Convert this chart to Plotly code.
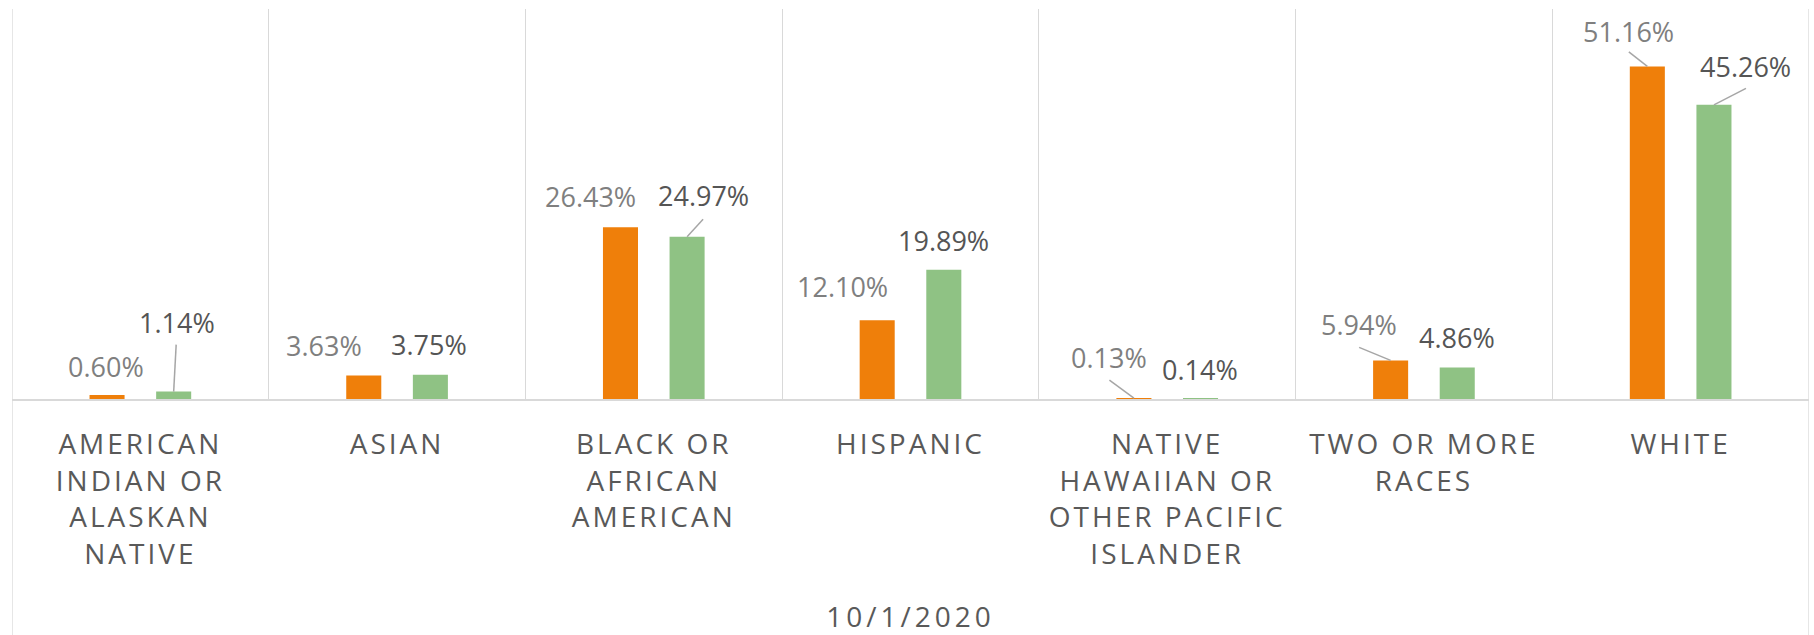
import plotly.graph_objects as go

# ---------------- data ----------------
categories = [
    "AMERICAN<br>INDIAN OR<br>ALASKAN<br>NATIVE",
    "ASIAN",
    "BLACK OR<br>AFRICAN<br>AMERICAN",
    "HISPANIC",
    "NATIVE<br>HAWAIIAN OR<br>OTHER PACIFIC<br>ISLANDER",
    "TWO OR MORE<br>RACES",
    "WHITE",
]
series_a = [0.60, 3.63, 26.43, 12.10, 0.13, 5.94, 51.16]   # orange
series_b = [1.14, 3.75, 24.97, 19.89, 0.14, 4.86, 45.26]   # green
axis_title = "10/1/2020"

# ---------------- styles / label placement (pixels) ----------------
W, H = 1814, 635
ML, MR, MT, MB = 12, 5, 9, 236
COL_A = "#EF7F0A"
COL_B = "#8FC284"
LAB_A = "#7F7F7F"
LAB_B = "#555555"
GRID = "#D9D9D9"
LEADER = "#A6A6A6"
FONT = "Open Sans"
BARGAP = 0.481
GROUPGAP = 0.474

# label centre offsets from bar-top centre (dx right, dy up)
off_a = [(-1, 29), (-40, 30), (-30, 30.5), (-34.5, 33.5), (-24.5, 41), (-32, 35.5), (-18.5, 35)]
off_b = [(3, 69.5), (-1, 30), (16, 41), (0, 29), (-0.5, 29), (-0.5, 29.5), (32, 38.5)]
# leader lines (start offset from bar top centre), None = no leader
lead_a = [None, None, None, None, (-24.5, 18), (-31.5, 13), (-18.5, 14.5)]
lead_b = [(2.5, 47), None, (16, 17.5), None, None, None, (32, 16.5)]

xs = list(range(len(categories)))
half = (1 - BARGAP) / 4.0

fig = go.Figure()
fig.add_trace(go.Bar(x=xs, y=series_a, marker=dict(color=COL_A, line=dict(width=0)),
                     name="A", hoverinfo="skip"))
fig.add_trace(go.Bar(x=xs, y=series_b, marker=dict(color=COL_B, line=dict(width=0)),
                     name="B", hoverinfo="skip"))

annotations = []
shapes = []
for vals, offs, leads, shift, col in [(series_a, off_a, lead_a, -half, LAB_A),
                                      (series_b, off_b, lead_b, half, LAB_B)]:
    for i, v in enumerate(vals):
        dx, dy = offs[i]
        annotations.append(dict(
            x=i + shift, y=v, xref="x", yref="y", text=f"{v:.2f}%",
            showarrow=False, xanchor="center", yanchor="middle",
            xshift=dx, yshift=dy, font=dict(family=FONT, size=27, color=col)))
        if leads[i] is not None:
            lx, ly = leads[i]
            shapes.append(dict(
                type="line", xref="x", yref="y", xsizemode="pixel", ysizemode="pixel",
                xanchor=i + shift, yanchor=v, x0=lx, y0=ly, x1=0, y1=0,
                line=dict(color=LEADER, width=1.5), layer="above"))

plot_h = H - MT - MB
for xb in (-0.5, len(categories) - 0.5):
    shapes.append(dict(type="line", xref="x", yref="paper", x0=xb, x1=xb,
                       y0=-MB / plot_h, y1=1, line=dict(color=GRID, width=1.3), layer="below"))

fig.update_layout(
    width=W, height=H,
    margin=dict(l=ML, r=MR, t=MT, b=MB, pad=0),
    paper_bgcolor="white", plot_bgcolor="white",
    barmode="group", bargap=BARGAP, bargroupgap=GROUPGAP,
    showlegend=False,
    annotations=annotations, shapes=shapes,
    font=dict(family=FONT, color="#595959"),
)
fig.update_xaxes(
    range=[-0.5, len(categories) - 0.5], tickmode="array", tickvals=xs, ticktext=categories,
    tickfont=dict(family=FONT, size=28, color="#595959"), ticks="", ticklabelstandoff=20,
    showgrid=False, zeroline=False, showline=True, linecolor=GRID, linewidth=1.5,
    minor=dict(tickmode="array", tickvals=[k + 0.5 for k in xs[:-1]], showgrid=True,
               gridcolor=GRID, gridwidth=1.3, ticks=""),
    title=dict(text=axis_title, font=dict(family=FONT, size=28, color="#595959"), standoff=39),
    fixedrange=True, automargin=False,
)
fig.update_yaxes(range=[0, 60], visible=False, showgrid=False, zeroline=False,
                 fixedrange=True)

post = """
document.body.style.margin='0';
document.body.style.overflow='hidden';
var gd=document.getElementById('{plot_id}');
function sp(){
  gd.querySelectorAll('.xtick text').forEach(function(t){t.style.letterSpacing='3px';});
  gd.querySelectorAll('.g-xtitle text').forEach(function(t){t.style.letterSpacing='4px';});
}
sp();
gd.on('plotly_afterplot', sp);
"""
fig.write_html("out.html", post_script=post, config={"displayModeBar": False, "responsive": False})
